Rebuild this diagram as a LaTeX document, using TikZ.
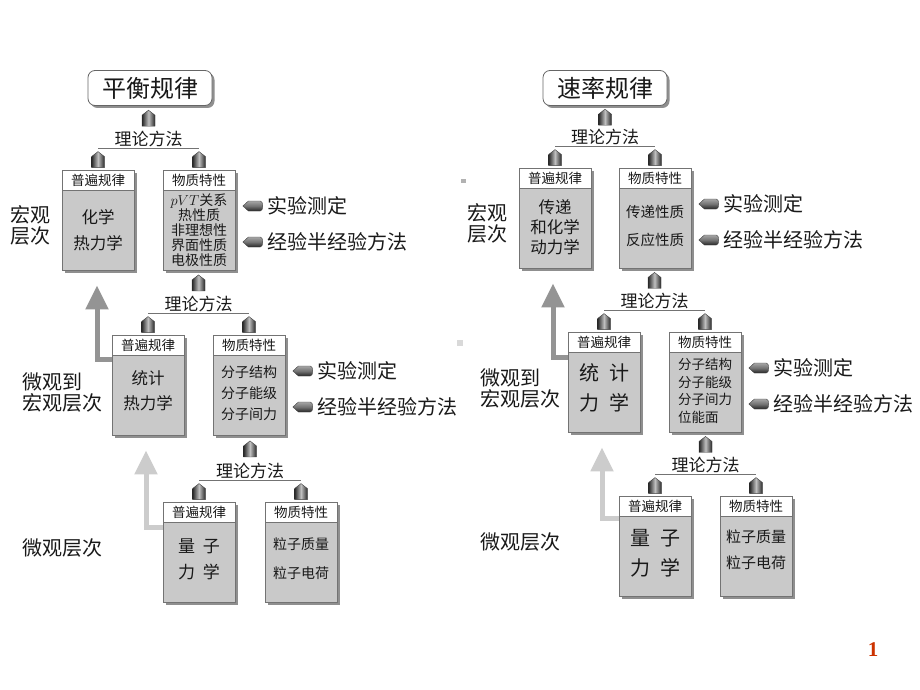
\documentclass[tikz,border=0pt]{standalone}
\usepackage{fontspec}
\setmainfont{Noto Sans CJK SC}
\newfontfamily\numfont{Liberation Serif}
\usetikzlibrary{calc,shadows,arrows.meta}
\definecolor{pagered}{RGB}{204,51,0}

\tikzset{
  card/.style={draw=black!55, line width=.8pt, fill=black!21, minimum width=72pt,
    minimum height=100pt, inner sep=0pt,
    drop shadow={shadow xshift=2.5pt, shadow yshift=-2.5pt, fill=black!55, opacity=.8}},
  cardhead/.style={draw=black!55, line width=.8pt, fill=white, minimum width=72pt,
    minimum height=20pt, inner sep=0pt, anchor=north, text=black!90,
    font=\fontsize{13.5}{14}\selectfont},
  cardtext/.style={inner sep=0pt, align=center, text=black!90},
  title/.style={draw=black!60, line width=.8pt, fill=white, rounded corners=7pt,
    minimum width=124pt, minimum height=35pt, text=black!90,
    font=\fontsize{24}{24}\selectfont,
    drop shadow={shadow xshift=2.5pt, shadow yshift=-2.5pt, fill=black!55, opacity=.8}},
  method/.style={inner sep=0pt, text=black!90, font=\fontsize{17}{17}\selectfont},
  side/.style={inner sep=0pt, anchor=west, text=black!90, font=\fontsize{20}{20}\selectfont},
  level/.style={inner sep=0pt, text=black!90, font=\fontsize{20}{21}\selectfont},
  bus/.style={draw=black!55, line width=.8pt},
  bigarrow/.style={line width=5pt, -{Triangle[width=22pt,length=24pt]}},
  uppencil/.pic={\shade[draw=black!75, line width=.4pt, left color=black!85,
      right color=black!85, middle color=black!25]
      (0,-8) -- (6.5,-3) -- (6.5,8) -- (-6.5,8) -- (-6.5,-3) -- cycle;},
  leftpencil/.pic={\shade[draw=black!75, line width=.4pt, top color=black!35,
      bottom color=black!85, middle color=black!55]
      (-9.5,0) -- (-4,-5) -- (8,-5) to[out=0,in=0,looseness=.8] (8,5) -- (-4,5) -- cycle;}
}

% bus line, 理论方法 and the three pencils of one level
\newcommand{\theorylink}[4]{%
  \coordinate (#4-l) at ($(#2.north)+(0,-21)$);
  \coordinate (#4-r) at ($(#3.north)+(0,-21)$);
  \draw[bus] (#4-l) -- (#4-r);
  \node[method] (#4) at ($(#4-l)!.5!(#4-r)+(0,-10)$) {理论方法};
  \pic at ($(#2.north)+(0,-10)$) {uppencil};
  \pic at ($(#3.north)+(0,-10)$) {uppencil};
  \pic at ($(#1.south -| #4)!.5!(#4.north)$) {uppencil};
}
% the two measuring methods beside a box
\newcommand{\measure}[1]{%
  \pic at ($(#1.east)+(17,-14)$) {leftpencil};
  \node[side] (#1-exp) at ($(#1.east)+(32,-14)$) {实验测定};
  \pic at ($(#1.east)+(17,22)$) {leftpencil};
  \node[side] (#1-emp) at ($(#1.east)+(32,22)$) {经验半经验方法};
}

\begin{document}
\begin{tikzpicture}[x=1pt, y=-1pt]
\fill[white] (0,0) rectangle (920,690);
\useasboundingbox (0,0) rectangle (920,690);

% left: equilibrium
\node[title] (ttl) at (150,88) {平衡规律};
\node[card] (l1) at (98,220) {};
\node[card] (l2) at (199,220) {};
\node[card] (l3) at (148,385) {};
\node[card] (l4) at (249,385) {};
\node[card] (l5) at (199,552) {};
\node[card] (l6) at (301,552) {};

\draw[bigarrow, black!42] ($(l3.north west)+(0,25)$) -| ($(l1.south)+(-1,15)$);
\draw[bigarrow, black!20] ($(l5.north west)+(0,26)$) -| ($(l3.south)+(-2,15)$);
\foreach \b in {l1,l3,l5} \node[cardhead] (\b-hd) at (\b.north) {普遍规律};
\foreach \b in {l2,l4,l6} \node[cardhead] (\b-hd) at (\b.north) {物质特性};

\node[cardtext, font=\fontsize{16.5}{26}\selectfont] (l1-txt) at ($(l1.center)+(0,10)$) {化学\\热力学};
\node[cardtext, font=\fontsize{14}{15}\selectfont] (l2-txt) at ($(l2.center)+(0,10)$)
  {$pVT$关系\\热性质\\非理想性\\界面性质\\电极性质};
\node[cardtext, font=\fontsize{16.5}{25}\selectfont] (l3-txt) at ($(l3.center)+(0,6)$) {统计\\热力学};
\node[cardtext, font=\fontsize{14}{21}\selectfont] (l4-txt) at ($(l4.center)+(0,8)$) {分子结构\\分子能级\\分子间力};
\node[cardtext, font=\fontsize{17}{26}\selectfont] (l5-txt) at ($(l5.center)+(0,7)$) {量\hspace{8pt}子\\力\hspace{8pt}学};
\node[cardtext, font=\fontsize{14}{29}\selectfont] (l6-txt) at ($(l6.center)+(0,7)$) {粒子质量\\粒子电荷};

\theorylink{ttl}{l1}{l2}{m1}
\theorylink{l2}{l3}{l4}{m2}
\theorylink{l4}{l5}{l6}{m3}
\measure{l2}
\measure{l4}

\node[level, align=center] (lv1) at (30,225) {宏观\\层次};
\node[level, align=left, anchor=west] (lv2) at (22,392) {微观到\\宏观层次};
\node[level, anchor=west] (lv3) at (22,548) {微观层次};

% right: rates
\node[title] (ttr) at (605,88) {速率规律};
\node[card] (r1) at (555,218) {};
\node[card] (r2) at (655,218) {};
\node[card] (r3) at (604,382) {};
\node[card] (r4) at (705,382) {};
\node[card] (r5) at (655,546) {};
\node[card] (r6) at (756,546) {};

\draw[bigarrow, black!42] ($(r3.north west)+(0,26)$) -| ($(r1.south)+(-2,15)$);
\draw[bigarrow, black!20] ($(r5.north west)+(0,23)$) -| ($(r3.south)+(-2,15)$);
\foreach \b in {r1,r3,r5} \node[cardhead] (\b-hd) at (\b.north) {普遍规律};
\foreach \b in {r2,r4,r6} \node[cardhead] (\b-hd) at (\b.north) {物质特性};

\node[cardtext, font=\fontsize{16.5}{20}\selectfont] (r1-txt) at ($(r1.center)+(0,9)$) {传递\\和化学\\动力学};
\node[cardtext, font=\fontsize{14.5}{28}\selectfont] (r2-txt) at ($(r2.center)+(0,8)$) {传递性质\\反应性质};
\node[cardtext, font=\fontsize{20}{30}\selectfont] (r3-txt) at ($(r3.center)+(0,6)$) {统\hspace{10pt}计\\力\hspace{10pt}学};
\node[cardtext, align=left, font=\fontsize{13.5}{17.5}\selectfont] (r4-txt) at ($(r4.center)+(0,9)$)
  {分子结构\\分子能级\\分子间力\\位能面};
\node[cardtext, font=\fontsize{20}{30}\selectfont] (r5-txt) at ($(r5.center)+(0,7)$) {量\hspace{10pt}子\\力\hspace{10pt}学};
\node[cardtext, font=\fontsize{15}{26}\selectfont] (r6-txt) at ($(r6.center)+(0,4)$) {粒子质量\\粒子电荷};

\theorylink{ttr}{r1}{r2}{n1}
\theorylink{r2}{r3}{r4}{n2}
\theorylink{r4}{r5}{r6}{n3}
\measure{r2}
\measure{r4}

\node[level, align=center] (rv1) at (487,223) {宏观\\层次};
\node[level, align=left, anchor=west] (rv2) at (480,388) {微观到\\宏观层次};
\node[level, anchor=west] (rv3) at (480,542) {微观层次};

% stray marks and page number
\fill[black!30] (461,179) rectangle (466,183);
\fill[black!15] (457,340) rectangle (463,346);
\node[text=pagered, font=\numfont\bfseries\fontsize{21}{21}\selectfont] (pg) at (873,650) {1};
\end{tikzpicture}
\end{document}
